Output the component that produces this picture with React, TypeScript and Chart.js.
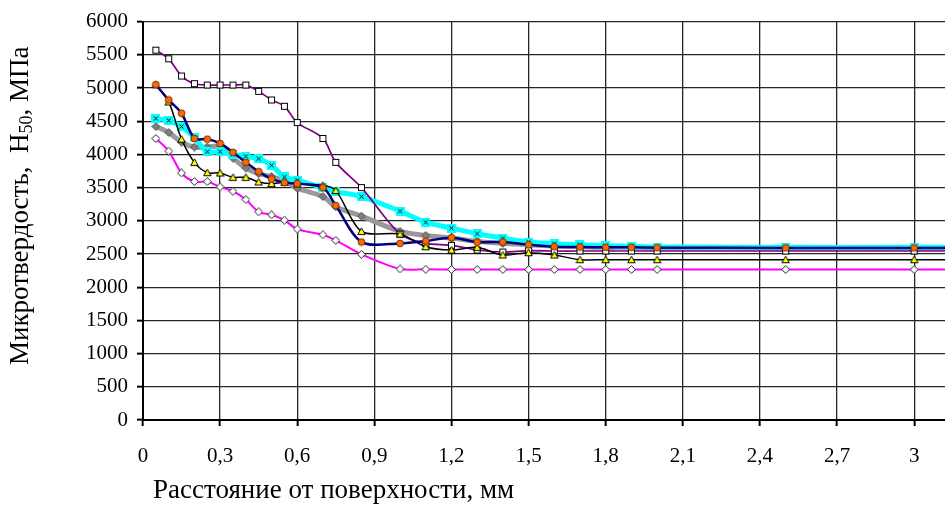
import React, { useEffect, useRef } from 'react';
import { Chart, registerables } from 'chart.js';

Chart.register(...registerables);

// ---- data ----
const xValues = [0.05, 0.1, 0.15, 0.2, 0.25, 0.3, 0.35, 0.4, 0.45, 0.5, 0.55, 0.6, 0.7, 0.75, 0.85, 1.0, 1.1, 1.2, 1.3, 1.4, 1.5, 1.6, 1.7, 1.8, 1.9, 2.0, 2.5, 3.0, 3.5];

const purpleSquares = [5570, 5440, 5180, 5065, 5045, 5045, 5045, 5045, 4950, 4820, 4725, 4480, 4240, 3880, 3500, 2800, 2660, 2630, 2560, 2530, 2550, 2545, 2545, 2545, 2545, 2545, 2545, 2545, 2545];
const navyCircles = [5050, 4820, 4620, 4240, 4230, 4165, 4030, 3880, 3740, 3630, 3575, 3560, 3500, 3230, 2680, 2660, 2695, 2745, 2680, 2680, 2640, 2610, 2605, 2600, 2600, 2595, 2592, 2592, 2592];
const blackTriangles = [5050, 4790, 4230, 3880, 3725, 3720, 3655, 3655, 3585, 3560, 3580, 3557, 3535, 3458, 2840, 2800, 2610, 2560, 2600, 2485, 2520, 2485, 2415, 2415, 2415, 2415, 2415, 2415, 2415];
const cyanCrosses = [4540, 4510, 4420, 4250, 4040, 4040, 4000, 3970, 3935, 3835, 3660, 3610, 3500, 3440, 3364, 3145, 2980, 2890, 2805, 2740, 2680, 2655, 2640, 2625, 2615, 2605, 2600, 2600, 2600];
const grayDiamonds = [4420, 4330, 4185, 4110, 4110, 4120, 3945, 3795, 3710, 3665, 3600, 3490, 3365, 3210, 3070, 2840, 2780, 2740, 2690, 2660, 2640, 2620, 2610, 2600, 2600, 2590, 2590, 2590, 2590];
const magentaDiamonds = [4240, 4050, 3720, 3590, 3590, 3510, 3445, 3320, 3135, 3090, 3010, 2875, 2790, 2705, 2495, 2275, 2270, 2266, 2266, 2266, 2266, 2266, 2266, 2266, 2266, 2266, 2266, 2266, 2266];

const xTicks = [0, 0.3, 0.6, 0.9, 1.2, 1.5, 1.8, 2.1, 2.4, 2.7, 3];
const xTickLabels = ['0', '0,3', '0,6', '0,9', '1,2', '1,5', '1,8', '2,1', '2,4', '2,7', '3'];
const xTitle = 'Расстояние от поверхности, мм';
const yTitleMain = 'Микротвердость,  H';
const yTitleSub = '50';
const yTitleEnd = ', МПа';

const FONT = '"Liberation Serif", "Times New Roman", serif';

function makeMarker(kind: string): HTMLCanvasElement {
  const c = document.createElement('canvas');
  const s = 9;
  c.width = s;
  c.height = s;
  const ctx = c.getContext('2d')!;
  ctx.lineWidth = 1;
  if (kind === 'square') {
    ctx.fillStyle = '#ffffff';
    ctx.strokeStyle = '#000000';
    ctx.fillRect(1, 1, 7, 7);
    ctx.strokeRect(1.5, 1.5, 6, 6);
  } else if (kind === 'circle') {
    ctx.fillStyle = '#ff6600';
    ctx.strokeStyle = '#7a3300';
    ctx.beginPath();
    ctx.arc(4.5, 4.5, 3.4, 0, Math.PI * 2);
    ctx.fill();
    ctx.stroke();
  } else if (kind === 'triangle') {
    ctx.fillStyle = '#ffff00';
    ctx.strokeStyle = '#000000';
    ctx.beginPath();
    ctx.moveTo(4.5, 1);
    ctx.lineTo(8.2, 7.6);
    ctx.lineTo(0.8, 7.6);
    ctx.closePath();
    ctx.fill();
    ctx.stroke();
  } else if (kind === 'cross') {
    ctx.fillStyle = '#00ffff';
    ctx.fillRect(0, 0, 9, 9);
    ctx.strokeStyle = '#000000';
    ctx.beginPath();
    ctx.moveTo(2.5, 2.5);
    ctx.lineTo(6.5, 6.5);
    ctx.moveTo(6.5, 2.5);
    ctx.lineTo(2.5, 6.5);
    ctx.stroke();
  } else if (kind === 'grayDiamond' || kind === 'whiteDiamond') {
    ctx.fillStyle = kind === 'grayDiamond' ? '#808080' : '#ffffff';
    ctx.strokeStyle = kind === 'grayDiamond' ? '#555555' : '#222222';
    ctx.beginPath();
    ctx.moveTo(4.5, 0.6);
    ctx.lineTo(8.4, 4.5);
    ctx.lineTo(4.5, 8.4);
    ctx.lineTo(0.6, 4.5);
    ctx.closePath();
    ctx.fill();
    ctx.stroke();
  }
  return c;
}

const titlesPlugin = {
  id: 'axisTitles',
  afterDraw(chart: any) {
    const ctx = chart.ctx as CanvasRenderingContext2D;
    const area = chart.chartArea;
    ctx.save();
    ctx.fillStyle = '#000';
    // x title
    ctx.font = `27px ${FONT}`;
    ctx.textAlign = 'left';
    ctx.textBaseline = 'middle';
    ctx.fillText(xTitle, area.left + 10, chart.height - 15);
    // y title (rotated, with subscript)
    const mainFont = `27px ${FONT}`;
    const subFont = `18px ${FONT}`;
    ctx.font = mainFont;
    const w1 = ctx.measureText(yTitleMain).width;
    const w3 = ctx.measureText(yTitleEnd).width;
    ctx.font = subFont;
    const w2 = ctx.measureText(yTitleSub).width;
    const total = w1 + w2 + w3;
    const cx = 21;
    const cy = (area.top + area.bottom) / 2 - 15;
    ctx.translate(cx, cy);
    ctx.rotate(-Math.PI / 2);
    ctx.textBaseline = 'middle';
    ctx.textAlign = 'left';
    let pos = -total / 2;
    ctx.font = mainFont;
    ctx.fillText(yTitleMain, pos, 0);
    pos += w1;
    ctx.font = subFont;
    ctx.fillText(yTitleSub, pos, 6);
    pos += w2;
    ctx.font = mainFont;
    ctx.fillText(yTitleEnd, pos, 0);
    ctx.restore();
  },
};

export default function App() {
  const ref = useRef<HTMLCanvasElement | null>(null);

  useEffect(() => {
    document.body.style.margin = '0';
    const canvas = ref.current!;
    const pts = (arr: number[]) => xValues.map((x, i) => ({ x, y: arr[i] }));
    const mk = (
      label: string,
      arr: number[],
      color: string,
      width: number,
      marker: string,
      order: number
    ) => ({
      label,
      data: pts(arr),
      borderColor: color,
      borderWidth: width,
      pointStyle: makeMarker(marker),
      pointRadius: 4,
      pointHoverRadius: 4,
      tension: 0.3,
      fill: false,
      order,
    });

    const chart = new Chart(canvas, {
      type: 'line',
      data: {
        datasets: [
          mk('magenta', magentaDiamonds, '#ff00ff', 2, 'whiteDiamond', 1),
          mk('navy', navyCircles, '#000080', 2.5, 'circle', 2),
          mk('black', blackTriangles, '#000000', 1.5, 'triangle', 3),
          mk('purple', purpleSquares, '#800080', 1.7, 'square', 4),
          mk('cyan', cyanCrosses, '#00ffff', 5, 'cross', 5),
          mk('gray', grayDiamonds, '#999999', 5, 'grayDiamond', 6),
        ] as any,
      },
      options: {
        responsive: false,
        animation: false,
        devicePixelRatio: 1,
        layout: { autoPadding: false, padding: { top: 15, right: 0, left: 0, bottom: 0 } },
        plugins: {
          legend: { display: false },
          tooltip: { enabled: false },
        },
        scales: {
          x: {
            type: 'linear',
            min: 0,
            max: 3.12,
            afterBuildTicks: (s: any) => {
              s.ticks = xTicks.map((v) => ({ value: v }));
            },
            afterFit: (s: any) => {
              s.height = 86;
            },
            ticks: {
              autoSkip: false,
              maxRotation: 0,
              padding: 18,
              color: '#000',
              font: { family: FONT, size: 21 },
              callback: (v: any) => {
                const i = xTicks.findIndex((t) => Math.abs(t - Number(v)) < 1e-6);
                return i >= 0 ? xTickLabels[i] : '';
              },
            },
            grid: {
              color: '#262626',
              lineWidth: 1.3,
              drawTicks: true,
              tickLength: 6,
              tickColor: '#000',
              tickWidth: 2,
            },
            border: { display: true, color: '#000', width: 2 },
          },
          y: {
            min: 0,
            max: 6000,
            afterFit: (s: any) => {
              s.width = 143;
            },
            ticks: {
              stepSize: 500,
              padding: 9,
              color: '#000',
              font: { family: FONT, size: 21 },
              callback: (v: any) => String(v),
            },
            grid: {
              color: '#262626',
              lineWidth: 1.3,
              drawTicks: true,
              tickLength: 6,
              tickColor: '#000',
              tickWidth: 2,
            },
            border: { display: true, color: '#000', width: 2 },
          },
        },
      } as any,
      plugins: [titlesPlugin],
    });
    return () => chart.destroy();
  }, []);

  return (
    <div style={{ width: 945, height: 506 }}>
      <canvas ref={ref} width={945} height={506} style={{ display: 'block' }} />
    </div>
  );
}
